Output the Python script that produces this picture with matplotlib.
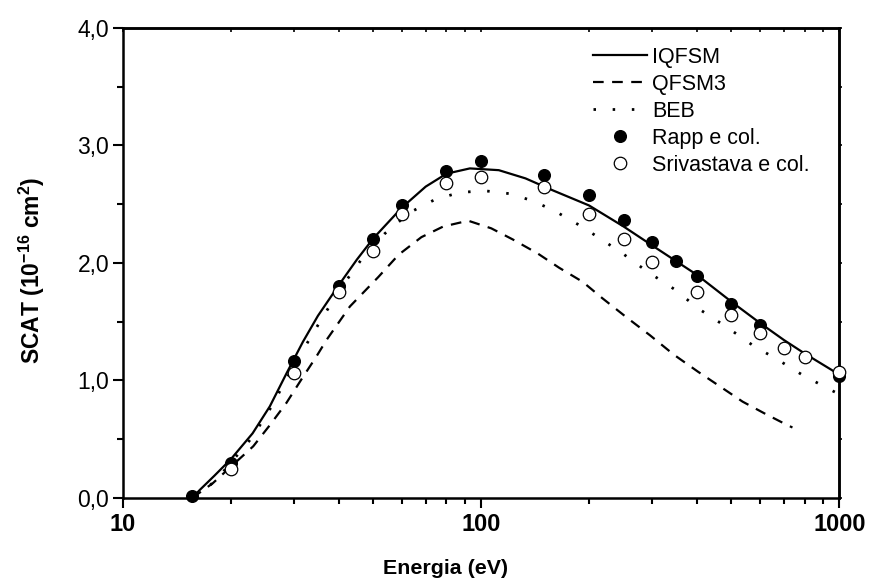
import matplotlib
matplotlib.use('Agg')
import matplotlib.pyplot as plt
from matplotlib.ticker import LogLocator, FixedLocator, FuncFormatter, NullFormatter

plt.rcParams['font.family'] = ['Liberation Sans', 'DejaVu Sans']
plt.rcParams['mathtext.fontset'] = 'custom'
plt.rcParams['mathtext.rm'] = 'Liberation Sans:bold'
plt.rcParams['mathtext.bf'] = 'Liberation Sans:bold'

# curvas teoricas
e_iqfsm = [15.6, 16.4, 18, 20, 23, 25.7, 28.6, 31.8, 35, 40, 45, 50, 60, 70, 80, 93,
           112, 133, 158, 200, 250, 300, 400, 500, 600, 700, 800, 1000]
s_iqfsm = [0.0, 0.07, 0.19, 0.33, 0.55, 0.78, 1.06, 1.33, 1.55, 1.81, 2.03, 2.21, 2.47,
           2.65, 2.76, 2.805, 2.79, 2.72, 2.62, 2.49, 2.31, 2.15, 1.90, 1.67, 1.49,
           1.345, 1.23, 1.05]

e_qfsm3 = [15.6, 17.8, 23.1, 25.7, 28.6, 31.8, 34.6, 37.0, 43, 51.6, 58.8, 68.1, 78.3,
           92, 106.7, 122.6, 144, 165, 192, 218, 254, 296, 345, 403, 464, 537, 618,
           716, 740]
s_qfsm3 = [0.0, 0.125, 0.44, 0.62, 0.81, 1.03, 1.20, 1.345, 1.63, 1.88, 2.07, 2.22,
           2.31, 2.36, 2.295, 2.20, 2.08, 1.96, 1.84, 1.70, 1.54, 1.385, 1.22, 1.075,
           0.95, 0.82, 0.72, 0.62, 0.60]

e_beb = [16.0, 18.4, 20, 23, 26, 30, 35, 40, 46.8, 53.8, 63.2, 74.3, 87.1, 102, 120,
         139, 160, 186, 200, 246, 290, 345, 405, 482, 573, 679, 786, 893, 967, 1050]
s_beb = [0.0, 0.17, 0.30, 0.52, 0.78, 1.13, 1.47, 1.76, 2.05, 2.25, 2.43, 2.54, 2.60,
         2.615, 2.59, 2.53, 2.445, 2.33, 2.27, 2.09, 1.93, 1.78, 1.61, 1.46, 1.30,
         1.17, 1.05, 0.96, 0.905, 0.85]

# dados experimentais
e_rapp = [15.6, 20, 30, 40, 50, 60, 80, 100, 150, 200, 250, 300, 350, 400, 500, 600, 1000]
s_rapp = [0.02, 0.30, 1.17, 1.80, 2.20, 2.49, 2.78, 2.87, 2.75, 2.58, 2.37, 2.18, 2.02,
          1.89, 1.65, 1.47, 1.04]

e_sri = [20, 30, 40, 50, 60, 80, 100, 150, 200, 250, 300, 400, 500, 600, 700, 800, 1000]
s_sri = [0.25, 1.06, 1.75, 2.10, 2.42, 2.68, 2.73, 2.65, 2.42, 2.20, 2.01, 1.75, 1.56,
         1.40, 1.28, 1.20, 1.075]

fig = plt.figure(figsize=(8.77, 5.81), dpi=100)
ax = fig.add_axes([0.1403, 0.1429, 0.8167, 0.8089])

ax.plot(e_iqfsm, s_iqfsm, color='black', lw=1.6, label='IQFSM', zorder=3)
ax.plot(e_qfsm3, s_qfsm3, color='black', lw=1.6, dashes=(4.8, 3.8), label='QFSM3', zorder=3)
ax.plot(e_beb, s_beb, color='black', lw=2.0, dashes=(0.9, 6.0), label='BEB',
        clip_on=False, zorder=3)
ax.plot(e_rapp, s_rapp, 'o', color='black', ms=8.4, label='Rapp e col.',
        clip_on=False, zorder=4)
ax.plot(e_sri, s_sri, 'o', mfc='white', mec='black', mew=0.9, ms=9, label='Srivastava e col.',
        clip_on=False, zorder=5)

ax.set_xscale('log')
ax.set_xlim(10, 1000)
ax.set_ylim(0, 4.0)

ax.xaxis.set_major_locator(FixedLocator([10, 100, 1000]))
ax.xaxis.set_minor_locator(LogLocator(base=10, subs=range(2, 10)))
ax.xaxis.set_minor_formatter(NullFormatter())
ax.xaxis.set_major_formatter(FuncFormatter(lambda v, p: '%d' % v))
ax.yaxis.set_major_locator(FixedLocator([0, 1, 2, 3, 4]))
ax.yaxis.set_minor_locator(FixedLocator([0.5, 1.5, 2.5, 3.5]))
ax.yaxis.set_major_formatter(FuncFormatter(lambda v, p: ('%.1f' % v).replace('.', ',')))

for s in ax.spines.values():
    s.set_linewidth(1.8)

ax.tick_params(axis='both', which='major', direction='out', length=7, width=1.5)
ax.tick_params(axis='both', which='minor', direction='out', length=4, width=1.5)
ax.tick_params(axis='y', labelsize=16.5, pad=3)
ax.tick_params(axis='x', labelsize=17, pad=4)
for lab in ax.get_xticklabels():
    lab.set_fontweight('bold')

# ticks do topo e da direita
ax2 = ax.secondary_xaxis('top')
ax2.xaxis.set_major_locator(FixedLocator([10, 100, 1000]))
ax2.xaxis.set_minor_locator(LogLocator(base=10, subs=range(2, 10)))
ax2.tick_params(which='both', direction='in', length=3, width=1.2, labeltop=False)
ax2.xaxis.set_major_formatter(NullFormatter())
ax2.xaxis.set_minor_formatter(NullFormatter())
ax2.spines['top'].set_linewidth(1.8)
ax3 = ax.secondary_yaxis('right')
ax3.yaxis.set_major_locator(FixedLocator([0, 1, 2, 3, 4]))
ax3.yaxis.set_minor_locator(FixedLocator([0.5, 1.5, 2.5, 3.5]))
ax3.tick_params(which='both', direction='out', length=2, width=1.2, labelright=False)
ax3.spines['right'].set_linewidth(1.8)

ax.set_xlabel('Energia (eV)', fontsize=15.4, fontweight='bold')
ax.xaxis.set_label_coords(0.45, -0.13)
ax.set_ylabel(r'SCAT (10$^{-16}$ cm$^{2}$)', fontsize=16.5, fontweight='bold')
ax.yaxis.set_label_coords(-0.106, 0.485)

leg = ax.legend(loc='upper left', bbox_to_anchor=(0.656, 0.96), frameon=False,
                fontsize=15.5, handlelength=2.5, handletextpad=0.25, labelspacing=0.28,
                borderpad=0, borderaxespad=0, numpoints=1)

fig.savefig('out.png', dpi=100)
